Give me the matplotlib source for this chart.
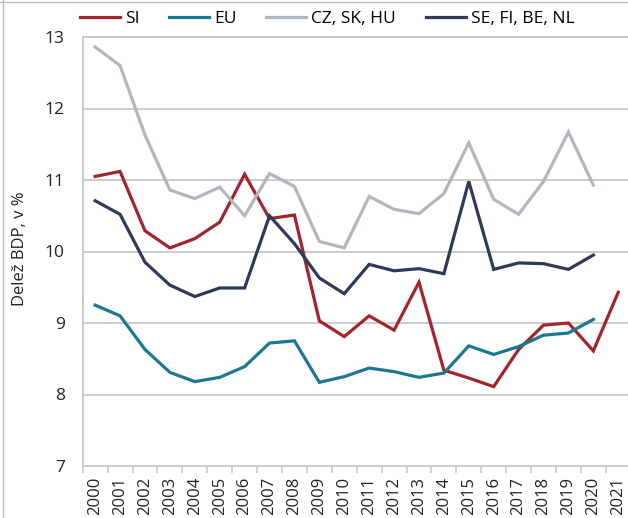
import numpy as np
import matplotlib
matplotlib.use('Agg')
import matplotlib.pyplot as plt
from matplotlib.lines import Line2D

plt.rcParams['font.family'] = ['Open Sans', 'DejaVu Sans']

years = [str(y) for y in range(2000, 2022)]

si = [11.05, 11.12, 10.29, 10.05, 10.18, 10.41, 11.08, 10.46, 10.51, 9.03, 8.81,
      9.10, 8.90, 9.57, 8.34, 8.23, 8.11, 8.63, 8.97, 9.00, 8.61, 9.43]
eu = [9.25, 9.10, 8.63, 8.31, 8.18, 8.24, 8.39, 8.72, 8.75, 8.17, 8.25,
      8.37, 8.32, 8.24, 8.30, 8.68, 8.56, 8.67, 8.83, 8.86, 9.05]
cz_sk_hu = [12.86, 12.60, 11.63, 10.86, 10.74, 10.90, 10.50, 11.09, 10.91, 10.14, 10.05,
            10.77, 10.59, 10.53, 10.81, 11.52, 10.73, 10.52, 10.98, 11.67, 10.93]
se_fi_be_nl = [10.71, 10.52, 9.85, 9.53, 9.37, 9.49, 9.49, 10.50, 10.11, 9.63, 9.41,
               9.82, 9.73, 9.76, 9.69, 10.98, 9.75, 9.84, 9.83, 9.75, 9.95]

series = [
    ('SI', si, '#a3242a'),
    ('EU', eu, '#1b7890'),
    ('CZ, SK, HU', cz_sk_hu, '#b0b7bd'),
    ('SE, FI, BE, NL', se_fi_be_nl, '#2e3a59'),
]

fig = plt.figure(figsize=(6.28, 5.18), dpi=100)
W, H = 628, 518
ax = fig.add_axes([82.7 / W, (H - 466) / H, 548 / W, (466 - 37) / H])

grid_col = '#c8c8c8'
for y in range(8, 14):
    ax.axhline(y, color=grid_col, lw=1.3, zorder=1)

for name, vals, col in series:
    ax.plot(range(len(vals)), vals, color=col, lw=2.3, label=name, zorder=3,
            solid_joinstyle='miter')

ax.set_xlim(-0.5, len(years) - 0.5)
ax.set_ylim(7, 13)
ax.set_yticks(range(7, 14))
ax.tick_params(axis='y', length=0, pad=13, labelsize=12.5, colors='#222222')

ax.set_xticks(range(len(years)))
ax.set_xticklabels(years, rotation=90, fontsize=12, color='#222222')
ax.set_xticks(np.arange(-0.5, len(years), 1), minor=True)
ax.tick_params(axis='x', which='major', length=0, pad=8)
ax.tick_params(axis='x', which='minor', length=5, width=1.2, color=grid_col)

for s in ['left', 'bottom', 'top']:
    ax.spines[s].set_color(grid_col)
    ax.spines[s].set_linewidth(1.3)
ax.spines['right'].set_visible(False)

fig.text(20 / W, 1 - 249 / H, 'Delež BDP, v %', rotation=90, ha='center', va='center',
         fontsize=12, color='#222222')

handles = [Line2D([0], [0], color=c, lw=2.3) for _, _, c in series]
fig.legend(handles, [n for n, _, _ in series], loc='center left',
           bbox_to_anchor=(80 / W, 1 - 19 / H), ncol=4, frameon=False,
           fontsize=12.5, handlelength=2.3, handletextpad=0.3, columnspacing=1.7,
           borderpad=0, borderaxespad=0)

# thin frame at the top/left edge of the image
fig.add_artist(Line2D([0, 1], [1 - 1.5 / H, 1 - 1.5 / H], transform=fig.transFigure,
                      color='#bbbbbb', lw=1))
fig.add_artist(Line2D([2.5 / W, 2.5 / W], [0, 1], transform=fig.transFigure,
                      color='#bbbbbb', lw=1))

fig.savefig('out.png', dpi=100)
